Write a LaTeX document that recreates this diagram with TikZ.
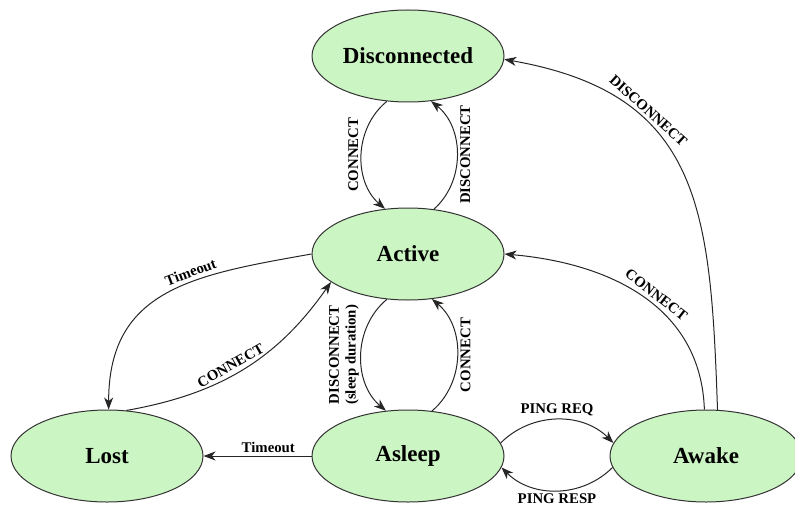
\documentclass[tikz,border=0pt]{standalone}
\usepackage{fontspec}
\setmainfont{Liberation Serif}
\usetikzlibrary{shapes.geometric,arrows.meta}
\definecolor{stategreen}{RGB}{204,245,196}
\begin{document}
\begin{tikzpicture}[x=0.5pt,y=0.5pt,
  state/.style={ellipse, draw=black!80, line width=0.5pt, fill=stategreen,
    minimum width=96pt, minimum height=46pt, inner sep=0pt,
    font=\bfseries\fontsize{11.5}{13}\selectfont},
  trans/.style={-{Stealth[length=6pt,width=4.5pt,inset=1.8pt]}, line width=0.5pt, black!85},
  lblbase/.style={font=\bfseries\fontsize{7.4}{8.4}\selectfont, inner sep=1.5pt, text=black},
  lbl/.style={lblbase, sloped, inner sep=2pt},
  lblwest/.style={lblbase, rotate=90, anchor=south, midway},
  lbleast/.style={lblbase, rotate=90, anchor=north, midway}]
\useasboundingbox (0,0) rectangle (795,504);
\node[state] (Disc)   at (408,448) {Disconnected};
\node[state] (Active) at (408,250) {Active};
\node[state] (Lost)   at (107,48)  {Lost};
\node[state] (Asleep) at (408,48)  {Asleep};
\node[state] (Awake)  at (706,48)  {Awake};

\draw[trans] (Disc.245) to[bend right=50] node[lblwest]{CONNECT} (Active.117);
\draw[trans] (Active.60) to[bend right=50] node[lbleast]{DISCONNECT} (Disc.297);
\draw[trans] (Active.245) to[bend right=50] node[lblwest,align=center,inner sep=1pt]{DISCONNECT\\(sleep duration)} (Asleep.116);
\draw[trans] (Asleep.62) to[bend right=50] node[lbleast]{CONNECT} (Active.298);

\draw[trans] (Active.180) to[out=190,in=90,looseness=1.2] node[lbl,above,pos=0.38]{Timeout} (Lost.88);
\draw[trans] (Lost.67) to[out=10,in=235] node[lbl,above,pos=0.46]{CONNECT} (Active.200);
\draw[trans] (Asleep.west) -- node[lbl,above,pos=0.4,inner sep=1.5pt]{Timeout} (Lost.east);

\draw[trans] (Asleep.8) to[bend left=45] node[lbl,above,inner sep=1.5pt]{PING REQ} (Awake.172);
\draw[trans] (Awake.187) to[bend left=45] node[lbl,below,inner sep=1.5pt]{PING RESP} (Asleep.353);

\draw[trans] (Awake.92) to[out=92,in=355,looseness=1.05] node[lbl,above,pos=0.46]{CONNECT} (Active.0);
\draw[trans] (Awake.76) to[out=92,in=350,looseness=1.25] node[lbl,above,pos=0.68]{DISCONNECT} (Disc.358);
\end{tikzpicture}
\end{document}
